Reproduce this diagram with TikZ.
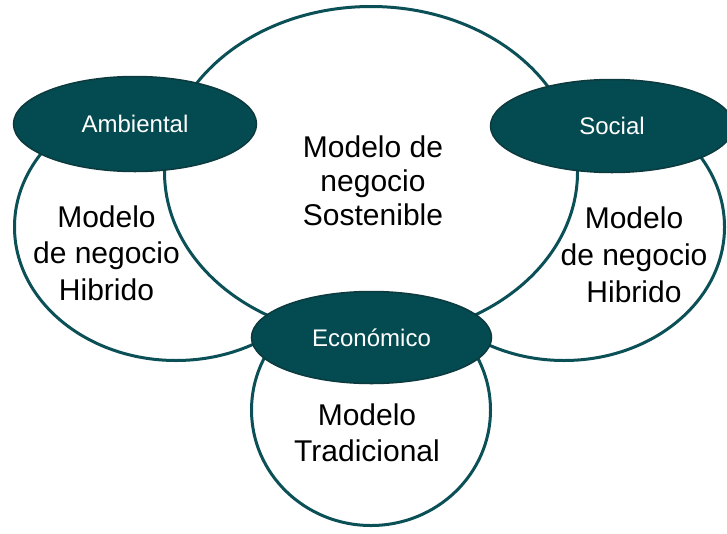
\documentclass[tikz,border=0pt]{standalone}
\usepackage{fontspec}
\setmainfont{Liberation Sans}
\usetikzlibrary{shapes.geometric}
\definecolor{ring}{RGB}{10,80,86}
\definecolor{hubfill}{RGB}{3,75,80}
\definecolor{hubline}{RGB}{12,58,62}
\begin{document}
\begin{tikzpicture}[x=1pt,y=-1pt,
  ringshape/.style={ellipse, draw=ring, line width=3pt, fill=white, inner sep=0pt},
  hub/.style={ellipse, draw=hubline, line width=1.5pt, fill=hubfill, text=white,
    font=\fontsize{24}{28}\selectfont, text height=17.5pt, text depth=0pt, inner sep=0pt},
  bigtext/.style={font=\fontsize{30}{34}\selectfont, anchor=base, inner sep=0pt}]
\useasboundingbox (0,0) rectangle (727,533);
% outer rings (drawn first, partly hidden)
\node[ringshape, minimum width=323pt, minimum height=267pt] (hl) at (176,227) {};
\node[ringshape, minimum width=321pt, minimum height=267pt] (hr) at (564,227) {};
\node[ringshape, minimum width=239pt, minimum height=231pt] (tr) at (371,410) {};
% central ring
\node[ringshape, minimum width=413pt, minimum height=331pt] (sost) at (371,172) {};
% dark hubs
\node[hub, minimum width=243pt, minimum height=95pt] (amb) at (135,124) {Ambiental};
\node[hub, minimum width=243pt, minimum height=93pt] (soc) at (612,126) {Social};
\node[hub, minimum width=240pt, minimum height=92pt] (eco) at (371.5,337.5) {Económico};
% texts
\node[bigtext] (s1) at (373,157) {Modelo de};
\node[bigtext] (s2) at (373,191) {negocio};
\node[bigtext] (s3) at (373,225) {Sostenible};
\node[bigtext] (l1) at (106.5,227) {Modelo};
\node[bigtext] (l2) at (106.5,263.5) {de negocio};
\node[bigtext] (l3) at (106.5,300) {Hibrido};
\node[bigtext] (r1) at (634,228) {Modelo};
\node[bigtext] (r2) at (634,265) {de negocio};
\node[bigtext] (r3) at (634,302) {Hibrido};
\node[bigtext] (t1) at (367,425) {Modelo};
\node[bigtext] (t2) at (367,461) {Tradicional};
\end{tikzpicture}
\end{document}
